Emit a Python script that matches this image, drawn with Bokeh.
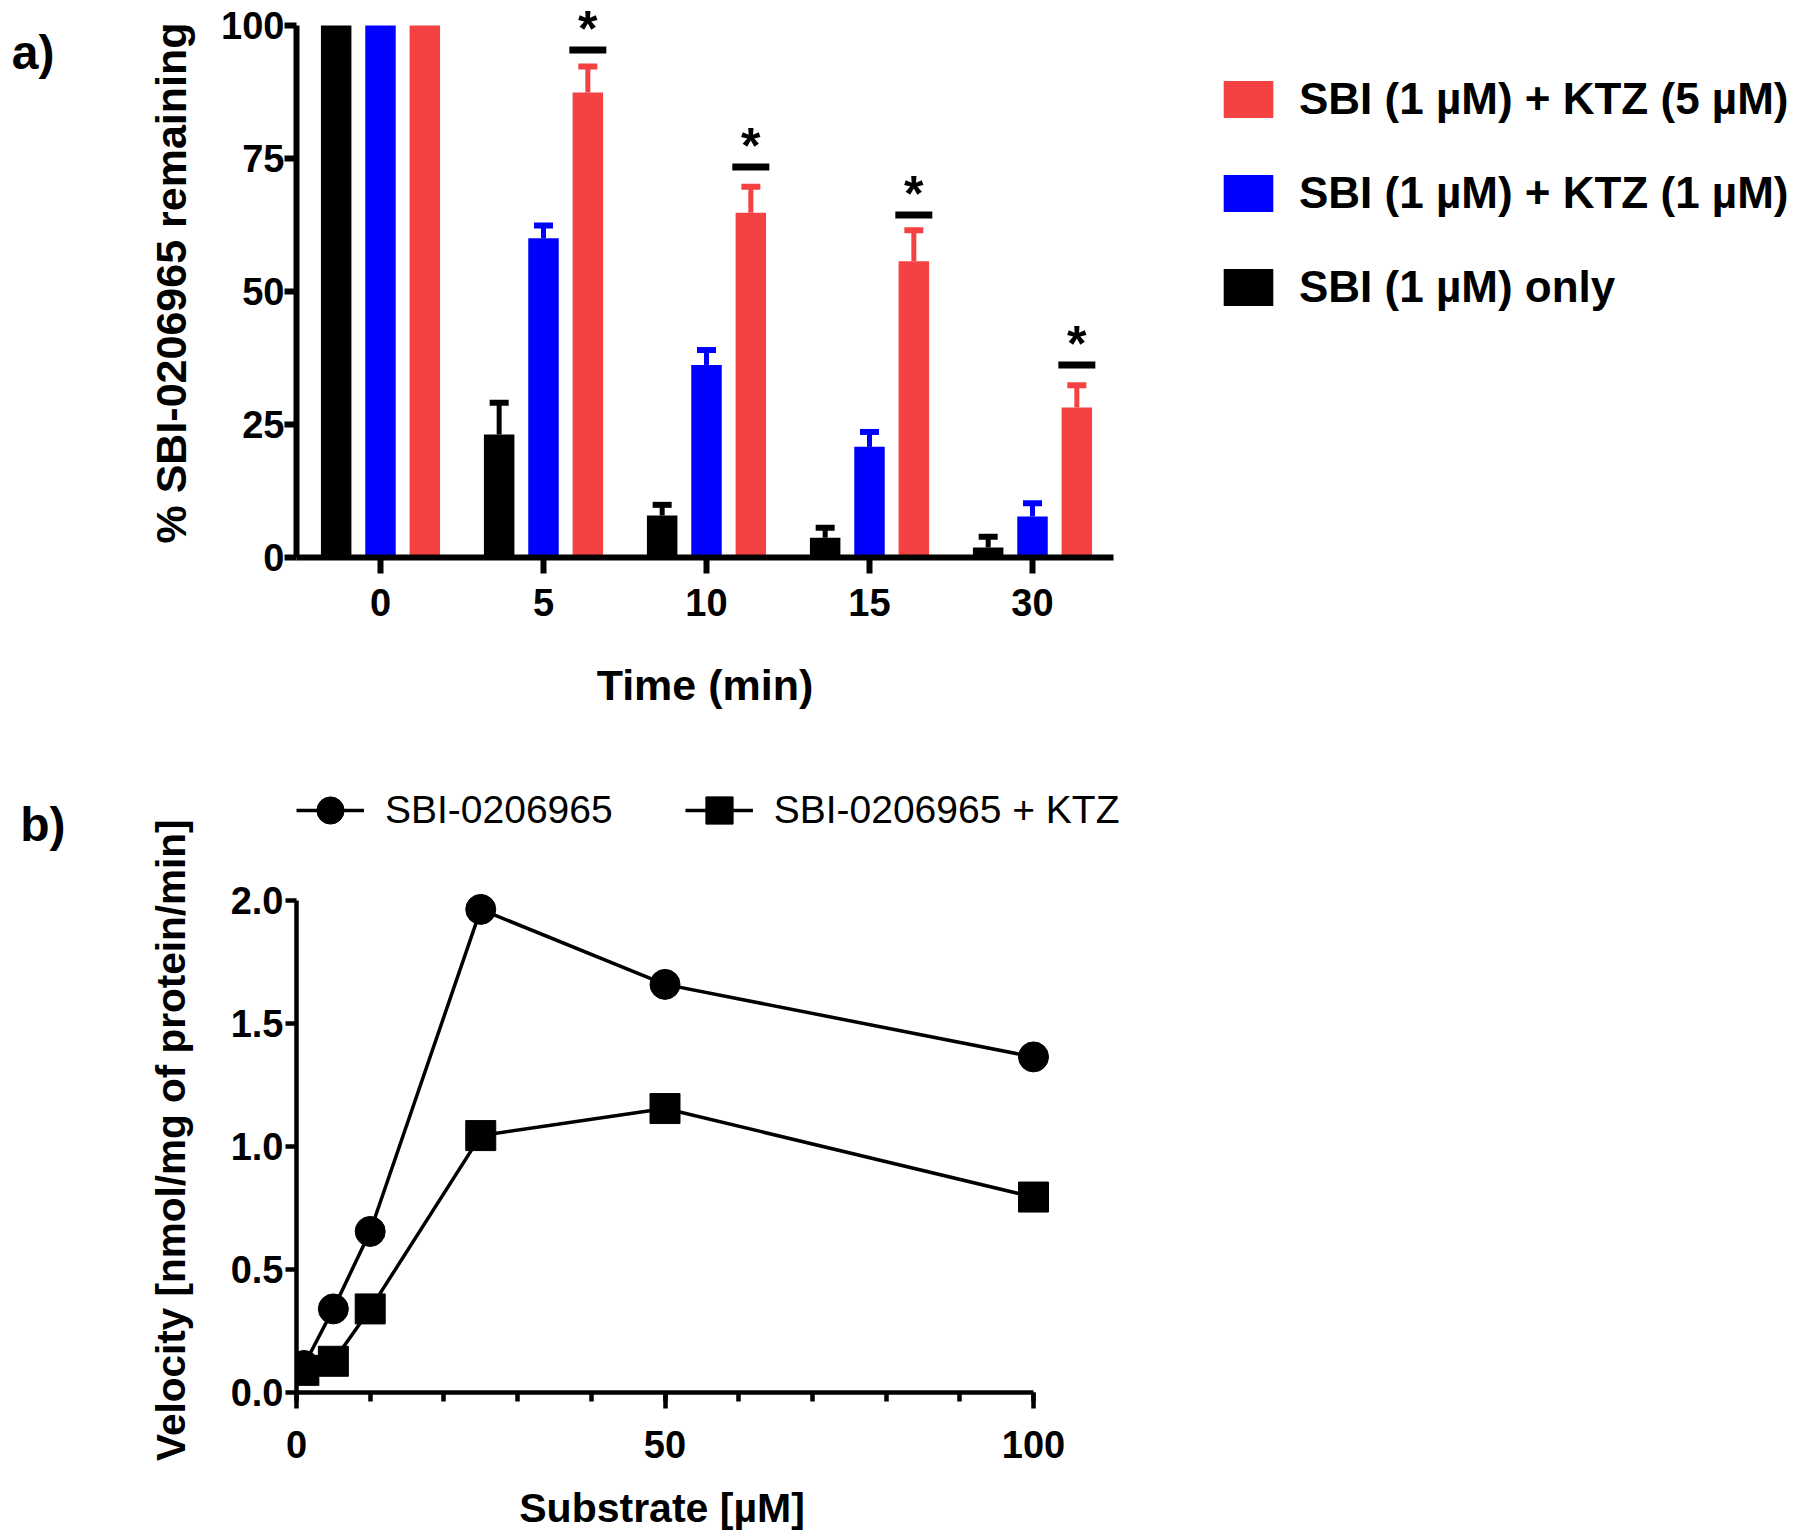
import numpy as np
from bokeh.plotting import figure
from bokeh.models import (ColumnDataSource, FixedTicker, Legend, LegendItem, Whisker,
                          TeeHead, Range1d, LinearAxis)
from bokeh.layouts import column
from bokeh.embed import file_html
from bokeh.resources import INLINE
from bokeh.core.properties import value

# ---------------- data: panel a ----------------
time_labels = ["0", "5", "10", "15", "30"]
series_names = ["SBI (1 µM) only", "SBI (1 µM) + KTZ (1 µM)", "SBI (1 µM) + KTZ (5 µM)"]
sbi_only = [100, 23.1, 7.9, 3.7, 1.9]
sbi_only_err = [0, 6.0, 2.0, 1.9, 2.0]
ktz1 = [100, 60.0, 36.2, 20.8, 7.7]
ktz1_err = [0, 2.4, 2.8, 2.8, 2.5]
ktz5 = [100, 87.4, 64.8, 55.7, 28.2]
ktz5_err = [0, 4.9, 4.9, 5.8, 4.2]
sig_groups = [1, 2, 3, 4]
sig_level = [95.4, 73.4, 64.4, 36.2]
sig_text = ["*", "*", "*", "*"]
panel_a_tag = "a)"

# ---------------- data: panel b ----------------
substrate = [1, 5, 10, 25, 50, 100]
v_sbi = [0.11, 0.34, 0.655, 1.965, 1.66, 1.365]
v_sbi_ktz = [0.09, 0.127, 0.34, 1.045, 1.155, 0.795]
line_names = ["SBI-0206965", "SBI-0206965 + KTZ"]
vel_ticks = [0, 0.5, 1.0, 1.5, 2.0]
vel_labels = ["0.0", "0.5", "1.0", "1.5", "2.0"]
sub_ticks = [0, 50, 100]
sub_minor = [0, 10, 20, 30, 40, 50, 60, 70, 80, 90, 100]
panel_b_tag = "b)"
b_xlabel = "Substrate [µM]"
b_ylabel = "Velocity [nmol/mg of protein/min]"

FONT = "Liberation Sans"
RED = "#F44242"
BLUE = "#0000FF"
BLACK = "#000000"
LEFT = 296           # frame left edge of both panels (page px)


def style_axis(ax, lw, tick_out, minor_out, tick_size, tick_standoff, lab_size, lab_standoff):
    ax.axis_line_width = lw
    ax.axis_line_color = "black"
    ax.major_tick_line_width = lw
    ax.major_tick_line_color = "black"
    ax.major_tick_out = tick_out
    ax.major_tick_in = 0
    ax.minor_tick_line_width = lw
    ax.minor_tick_line_color = "black"
    ax.minor_tick_out = minor_out
    ax.minor_tick_in = 0
    ax.major_label_text_font = FONT
    ax.major_label_text_font_style = "bold"
    ax.major_label_text_font_size = tick_size
    ax.major_label_text_color = "black"
    ax.major_label_standoff = tick_standoff
    ax.axis_label_text_font = FONT
    ax.axis_label_text_font_style = "bold"
    ax.axis_label_text_font_size = lab_size
    ax.axis_label_text_color = "black"
    ax.axis_label_standoff = lab_standoff


def text_axis(tick, txt, standoff, size, orientation="horizontal"):
    """An axis without line/ticks that only shows one text at one position."""
    ax = LinearAxis(ticker=FixedTicker(ticks=[tick], minor_ticks=[]),
                    major_label_overrides={tick: txt})
    ax.axis_line_color = None
    ax.major_tick_line_color = None
    ax.minor_tick_line_color = None
    ax.major_tick_out = 0
    ax.major_tick_in = 0
    ax.minor_tick_out = 0
    ax.minor_tick_in = 0
    ax.major_label_standoff = standoff
    ax.major_label_orientation = orientation
    ax.major_label_text_font = FONT
    ax.major_label_text_font_style = "bold"
    ax.major_label_text_font_size = size
    ax.major_label_text_color = "black"
    return ax


# ================= panel a =================
H_A = 748
X_A_SCALE = 163.0
A_RIGHT = 1113
x_a_start = -(380 - LEFT) / X_A_SCALE
pa = figure(frame_width=A_RIGHT - LEFT, frame_height=549,
            min_border_left=LEFT, min_border_right=1800 - A_RIGHT,
            min_border_top=8, min_border_bottom=H_A - 557,
            x_range=Range1d(x_a_start, x_a_start + (A_RIGHT - LEFT) / X_A_SCALE),
            y_range=Range1d(0, 103.2),
            output_backend="svg", toolbar_location=None)
pa.outline_line_color = None
pa.xgrid.visible = False
pa.ygrid.visible = False

idx = np.arange(len(time_labels))
offsets = [-0.272, 0.0, 0.272]
colors = [BLACK, BLUE, RED]
vals_all = [sbi_only, ktz1, ktz5]
errs_all = [sbi_only_err, ktz1_err, ktz5_err]
BAR_W = 0.187

bar_renderers = []
for vals, errs, col, off in zip(vals_all, errs_all, colors, offsets):
    src = ColumnDataSource(dict(x=idx + off, top=vals))
    r = pa.vbar(x="x", top="top", bottom=0, width=BAR_W, source=src,
                fill_color=col, line_color=None)
    bar_renderers.append(r)
    keep = [i for i, e in enumerate(errs) if e > 0]
    wsrc = ColumnDataSource(dict(
        x=[idx[i] + off for i in keep],
        low=[vals[i] for i in keep],
        up=[vals[i] + errs[i] for i in keep]))
    w = Whisker(source=wsrc, base="x", lower="low", upper="up",
                line_color=col, line_width=5,
                upper_head=TeeHead(size=19, line_color=col, line_width=6),
                lower_head=None)
    pa.add_layout(w)

sig_x = [g + offsets[2] for g in sig_groups]
pa.rect(x=sig_x, y=sig_level, width=0.227, height=7, height_units="screen",
        fill_color="black", line_color=None)
pa.text(x=sig_x, y=[s + 4.0 for s in sig_level], text=sig_text,
        text_align="center", text_baseline="alphabetic",
        text_font=value(FONT), text_font_style="bold", text_font_size="50px",
        text_color="black")

pa.xaxis.ticker = FixedTicker(ticks=list(idx), minor_ticks=[])
pa.xaxis.major_label_overrides = {int(i): t for i, t in zip(idx, time_labels)}
pa.xaxis.axis_label = "Time (min)"
pa.yaxis.ticker = FixedTicker(ticks=[0, 25, 50, 75, 100], minor_ticks=[])
pa.yaxis.bounds = (0, 100)
pa.yaxis.axis_label = "% SBI-0206965 remaining"
style_axis(pa.xaxis[0], 6, 16, 0, "38px", 15, "43px", 42)
style_axis(pa.yaxis[0], 6, 12, 0, "38px", 0, "43px", 23)
pa.add_layout(text_axis(95, panel_a_tag, 90, "48px"), "left")

legend_a = Legend(items=[
    LegendItem(label=series_names[2], renderers=[bar_renderers[2]]),
    LegendItem(label=series_names[1], renderers=[bar_renderers[1]]),
    LegendItem(label=series_names[0], renderers=[bar_renderers[0]]),
], location=(104, 245), orientation="vertical",
    glyph_width=62, glyph_height=46, label_standoff=20, spacing=44,
    padding=0, margin=0, border_line_color=None, background_fill_alpha=0,
    label_text_font=FONT, label_text_font_style="bold", label_text_font_size="44px",
    label_text_color="black")
pa.add_layout(legend_a, "right")

# ================= panel b =================
B_TOP = 770          # frame top (page px)
B_BOTTOM = 1392      # y = 0 (page px)
Y_SCALE = 245.85     # px per velocity unit
X_SCALE = 7.37       # px per µM
FRAME_B_W = 835
pb = figure(frame_width=FRAME_B_W, frame_height=B_BOTTOM - B_TOP,
            min_border_left=LEFT, min_border_right=1800 - LEFT - FRAME_B_W,
            min_border_top=B_TOP - H_A, min_border_bottom=1536 - B_BOTTOM,
            x_range=Range1d(0, FRAME_B_W / X_SCALE),
            y_range=Range1d(0, (B_BOTTOM - B_TOP) / Y_SCALE),
            output_backend="svg", toolbar_location=None)
pb.outline_line_color = None
pb.xgrid.visible = False
pb.ygrid.visible = False

l1 = pb.line(substrate, v_sbi, line_width=3.5, line_color="black")
s1 = pb.scatter(substrate, v_sbi, marker="circle", size=30,
                fill_color="black", line_color="black")
l2 = pb.line(substrate, v_sbi_ktz, line_width=3.5, line_color="black")
s2 = pb.scatter(substrate, v_sbi_ktz, marker="square", size=30,
                fill_color="black", line_color="black")

pb.xaxis.ticker = FixedTicker(ticks=sub_ticks, minor_ticks=sub_minor)
pb.xaxis.bounds = (0, 100)
pb.yaxis.ticker = FixedTicker(ticks=vel_ticks, minor_ticks=[])
pb.yaxis.major_label_overrides = {float(t): s for t, s in zip(vel_ticks, vel_labels)}
pb.yaxis.bounds = (0, 2)
style_axis(pb.xaxis[0], 4.5, 16, 9, "38px", 22, "41px", 23)
style_axis(pb.yaxis[0], 4.5, 11, 0, "38px", 2, "41px", 36)
# axis titles placed at their reference positions
pb.add_layout(text_axis(1.026, b_ylabel, 33, "40.5px", "vertical"), "left")
pb.add_layout(text_axis(2.312, panel_b_tag, 80, "48px"), "left")
pb.add_layout(text_axis(49.6, b_xlabel, 24, "41px"), "below")

legend_b = Legend(items=[
    LegendItem(label=line_names[0], renderers=[l1, s1]),
    LegendItem(label=line_names[1], renderers=[l2, s2]),
], location=(0, 548), orientation="horizontal",
    glyph_width=68, glyph_height=68, label_standoff=21, spacing=72,
    padding=0, margin=0, border_line_color=None, background_fill_alpha=0,
    label_text_font=FONT, label_text_font_style="normal", label_text_font_size="39px",
    label_text_color="black")
pb.add_layout(legend_b)

layout = column(pa, pb)
open("out.html", "w").write(file_html(layout, INLINE))
